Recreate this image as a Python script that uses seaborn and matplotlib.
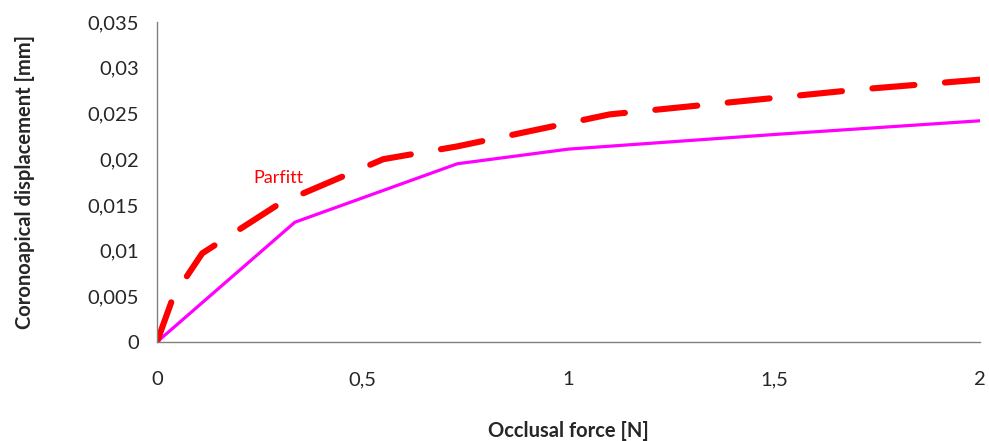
import pandas as pd
import matplotlib
matplotlib.use("Agg")
import matplotlib.pyplot as plt
import seaborn as sns
from matplotlib.ticker import FuncFormatter

# Parfitt curve (red, dashed)
parfitt_force = [0, 0.04, 0.11, 0.30, 0.55, 0.73, 1.10, 1.70, 2.0]
parfitt_disp = [0, 0.0050, 0.0097, 0.0152, 0.0200, 0.0214, 0.0249, 0.0276, 0.0287]

# model curve (magenta)
model_force = [0, 0.335, 0.73, 1.0, 1.5, 2.0]
model_disp = [0, 0.0131, 0.0195, 0.0211, 0.0227, 0.0242]

x_ticks = [0, 0.5, 1, 1.5, 2]
y_ticks = [0, 0.005, 0.01, 0.015, 0.02, 0.025, 0.03, 0.035]

sns.set_style("white")
plt.rcParams["font.family"] = ["Lato", "DejaVu Sans"]

fig, ax = plt.subplots(figsize=(9.89, 4.41), dpi=100)
fig.subplots_adjust(left=0.1587, right=0.991, top=0.950, bottom=0.2245)

df_p = pd.DataFrame({"force": parfitt_force, "disp": parfitt_disp})
df_m = pd.DataFrame({"force": model_force, "disp": model_disp})

sns.lineplot(data=df_m, x="force", y="disp", color="#FF00FF", linewidth=2.3,
             sort=False, ax=ax)
sns.lineplot(data=df_p, x="force", y="disp", color="#FF0000", linewidth=4.4,
             sort=False, ax=ax)
red = ax.lines[-1]
red.set_linestyle((0, (6.9, 5)))
red.set_dash_capstyle("round")
red.set_solid_capstyle("round")

ax.text(0.295, 0.0179, "Parfitt", color="#FF0000", fontsize=13,
        ha="center", va="center")

ax.set_xlim(0, 2)
ax.set_ylim(0, 0.035)
ax.set_xticks(x_ticks)
ax.set_yticks(y_ticks)
fmt = FuncFormatter(lambda v, p: f"{v:g}".replace(".", ","))
ax.xaxis.set_major_formatter(fmt)
ax.yaxis.set_major_formatter(fmt)

sns.despine(ax=ax)
for s in ["left", "bottom"]:
    ax.spines[s].set_color("#808080")
    ax.spines[s].set_linewidth(1.0)
ax.tick_params(axis="x", direction="out", length=5, width=1, color="#808080",
               pad=16, labelsize=14.5)
ax.tick_params(axis="y", direction="out", length=4, width=1, color="#808080",
               pad=9, labelsize=14.5)

ax.set_xlabel("Occlusal force [N]", fontsize=14.5, fontweight="bold", labelpad=24)
ax.set_ylabel("Coronoapical displacement [mm]", fontsize=14.5, fontweight="bold",
              labelpad=38)

fig.savefig("out.png", dpi=100)
